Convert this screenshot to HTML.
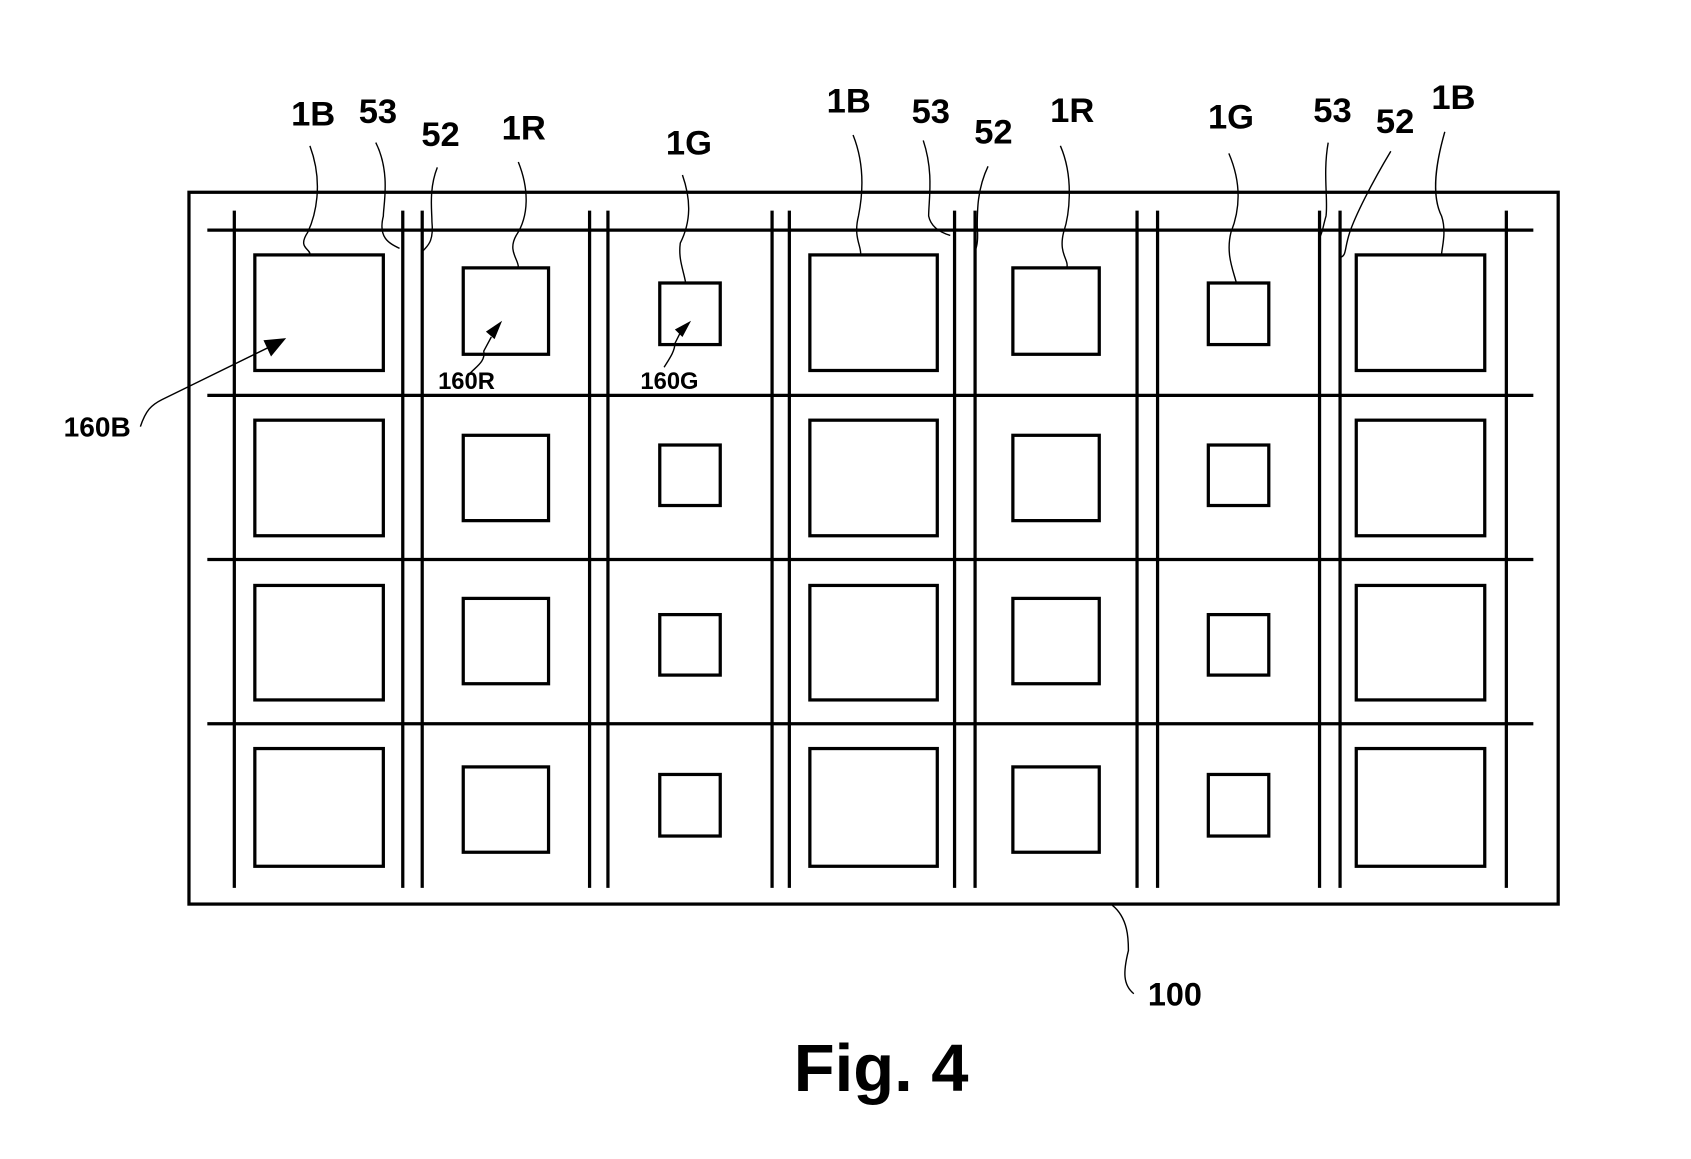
<!DOCTYPE html>
<html><head><meta charset="utf-8"><style>
html,body{margin:0;padding:0;background:#fff;}
svg{display:block;}
text{font-family:"Liberation Sans",sans-serif;font-weight:bold;fill:#000;}
</style></head><body>
<svg width="1691" height="1159" viewBox="0 0 1566 1073" preserveAspectRatio="none" xmlns="http://www.w3.org/2000/svg">
<g fill="none" stroke="#000" stroke-width="3">
<rect x="175" y="178" width="1268" height="659"/>
<line x1="192" y1="213" x2="1420" y2="213"/>
<line x1="192" y1="366" x2="1420" y2="366"/>
<line x1="192" y1="518" x2="1420" y2="518"/>
<line x1="192" y1="670" x2="1420" y2="670"/>
<line x1="217" y1="195" x2="217" y2="822"/>
<line x1="373" y1="195" x2="373" y2="822"/>
<line x1="391" y1="195" x2="391" y2="822"/>
<line x1="546" y1="195" x2="546" y2="822"/>
<line x1="563" y1="195" x2="563" y2="822"/>
<line x1="715" y1="195" x2="715" y2="822"/>
<line x1="731" y1="195" x2="731" y2="822"/>
<line x1="884" y1="195" x2="884" y2="822"/>
<line x1="903" y1="195" x2="903" y2="822"/>
<line x1="1053" y1="195" x2="1053" y2="822"/>
<line x1="1072" y1="195" x2="1072" y2="822"/>
<line x1="1222" y1="195" x2="1222" y2="822"/>
<line x1="1241" y1="195" x2="1241" y2="822"/>
<line x1="1395" y1="195" x2="1395" y2="822"/>
<rect x="236" y="236" width="119" height="107"/><rect x="236" y="389" width="119" height="107"/><rect x="236" y="542" width="119" height="106"/><rect x="236" y="693" width="119" height="109"/>
<rect x="750" y="236" width="118" height="107"/><rect x="750" y="389" width="118" height="107"/><rect x="750" y="542" width="118" height="106"/><rect x="750" y="693" width="118" height="109"/>
<rect x="1256" y="236" width="119" height="107"/><rect x="1256" y="389" width="119" height="107"/><rect x="1256" y="542" width="119" height="106"/><rect x="1256" y="693" width="119" height="109"/>
<rect x="429" y="248" width="79" height="80"/><rect x="429" y="403" width="79" height="79"/><rect x="429" y="554" width="79" height="79"/><rect x="429" y="710" width="79" height="79"/>
<rect x="938" y="248" width="80" height="80"/><rect x="938" y="403" width="80" height="79"/><rect x="938" y="554" width="80" height="79"/><rect x="938" y="710" width="80" height="79"/>
<rect x="611" y="262" width="56" height="57"/><rect x="611" y="412" width="56" height="56"/><rect x="611" y="569" width="56" height="56"/><rect x="611" y="717" width="56" height="57"/>
<rect x="1119" y="262" width="56" height="57"/><rect x="1119" y="412" width="56" height="56"/><rect x="1119" y="569" width="56" height="56"/><rect x="1119" y="717" width="56" height="57"/>
</g>
<g fill="none" stroke="#000" stroke-width="1.3">
<path d="M287 135 C300 170 292 200 285 215 C275 230 288 230 287 236"/>
<path d="M348 132 C362 160 355 190 355 200 C350 220 360 225 370 230"/>
<path d="M405 155 C397 175 400 195 400 205 C402 225 395 228 392 232"/>
<path d="M480 150 C490 175 490 200 478 218 C470 232 480 240 480 247"/>
<path d="M632 162 C640 185 640 205 630 225 C628 240 633 250 635 262"/>
<path d="M790 125 C800 150 800 175 795 200 C790 220 798 228 797 236"/>
<path d="M855 130 C865 160 860 185 860 200 C862 210 870 215 880 218"/>
<path d="M915 154 C905 175 905 195 905 210 C906 222 905 228 903 232"/>
<path d="M982 135 C995 165 990 200 985 215 C980 235 990 240 988 248"/>
<path d="M1138 142 C1150 170 1148 195 1140 215 C1135 235 1142 250 1145 262"/>
<path d="M1230 132 C1225 160 1230 185 1228 200 C1225 210 1225 215 1222 220"/>
<path d="M1288 140 C1270 170 1255 200 1250 215 C1245 230 1247 236 1242 238"/>
<path d="M1338 122 C1330 150 1325 180 1335 200 C1340 215 1335 230 1335 236"/>
<path d="M130 395 C135 380 140 375 150 370 L248 322"/>
<path d="M1030 838 C1045 850 1045 870 1045 880 C1040 900 1040 912 1050 920"/>
<path d="M435 346 C440 340 450 335 448 325 L455 312"/>
<path d="M615 340 C620 332 625 325 625 318 L630 308"/>
</g>
<g fill="#000">
<polygon points="265,313 244,315 251,330"/>
<polygon points="465,297 450,307 458,314"/>
<polygon points="640,297 625,305 632,312"/>
</g>
<g font-size="32">
<text x="290" y="116" text-anchor="middle">1B</text>
<text x="350" y="114" text-anchor="middle">53</text>
<text x="408" y="135" text-anchor="middle">52</text>
<text x="485" y="129" text-anchor="middle">1R</text>
<text x="638" y="143" text-anchor="middle">1G</text>
<text x="786" y="104" text-anchor="middle">1B</text>
<text x="862" y="114" text-anchor="middle">53</text>
<text x="920" y="133" text-anchor="middle">52</text>
<text x="993" y="113" text-anchor="middle">1R</text>
<text x="1140" y="119" text-anchor="middle">1G</text>
<text x="1234" y="113" text-anchor="middle">53</text>
<text x="1292" y="123" text-anchor="middle">52</text>
<text x="1346" y="101" text-anchor="middle">1B</text>
</g>
<text x="90" y="404" font-size="26" text-anchor="middle">160B</text>
<text x="432" y="360" font-size="22" text-anchor="middle">160R</text>
<text x="620" y="360" font-size="22" text-anchor="middle">160G</text>
<text x="1088" y="931" font-size="30" text-anchor="middle">100</text>
<text x="816" y="1010" font-size="62" text-anchor="middle">Fig. 4</text>
</svg>
</body></html>
